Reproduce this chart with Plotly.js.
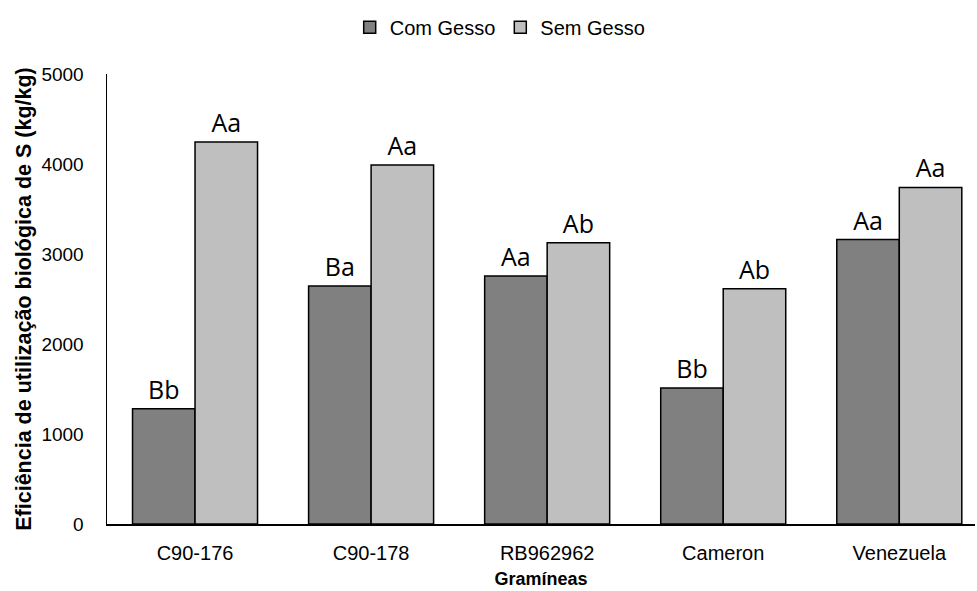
<!DOCTYPE html>
<html><head><meta charset="utf-8">
<script src="https://cdn.plot.ly/plotly-3.0.1.min.js"></script>
<style>body{margin:0}#chart{width:977px;height:591px}</style>
</head><body><div id="chart"></div>
<script>
const categories = ["C90-176", "C90-178", "RB962962", "Cameron", "Venezuela"];
const comGesso = [1280, 2645, 2755, 1510, 3160];
const semGesso = [4245, 3990, 3125, 2615, 3740];
const comLabels = ["Bb", "Ba", "Aa", "Bb", "Aa"];
const semLabels = ["Aa", "Aa", "Ab", "Ab", "Aa"];
const yTicks = [0, 1000, 2000, 3000, 4000, 5000];

const common = {
  type: "bar",
  x: categories,
  textposition: "outside",
  cliponaxis: false,
  textfont: {family: "Open Sans, Lato, sans-serif", size: 25, color: "#000"},
  hoverinfo: "skip"
};
const traces = [
  Object.assign({}, common, {name: "Com Gesso", y: comGesso, text: comLabels,
    marker: {color: "#808080", line: {color: "#000", width: 1.5}}}),
  Object.assign({}, common, {name: "Sem Gesso", y: semGesso, text: semLabels,
    marker: {color: "#bfbfbf", line: {color: "#000", width: 1.5}}})
];
const layout = {
  width: 977, height: 591,
  margin: {l: 107, r: 2, t: 74, b: 67},
  paper_bgcolor: "#fff", plot_bgcolor: "#fff",
  barmode: "group", bargap: 0.29, bargroupgap: 0,
  font: {family: "Liberation Sans, Arial, sans-serif", color: "#000", size: 16},
  showlegend: true,
  legend: {orientation: "h", x: 0.453, xanchor: "center", y: 1.104, yanchor: "middle",
    font: {family: "Liberation Sans, Arial, sans-serif", size: 20}, traceorder: "normal", itemwidth: 30},
  xaxis: {
    range: [-0.5, 4.43],
    showline: true, linecolor: "#000", linewidth: 1.5, ticks: "",
    tickfont: {family: "Liberation Sans, sans-serif", size: 20},
    ticklabelstandoff: 10, automargin: false,
    title: {text: "<b>Gramíneas</b>", font: {family: "Liberation Sans, sans-serif", size: 18}, standoff: 10}
  },
  yaxis: {
    range: [0, 5000], tickvals: yTicks, showgrid: false, zeroline: false,
    showline: true, linecolor: "#000", linewidth: 1.5, ticks: "",
    tickfont: {size: 19}, ticklabelstandoff: 18, automargin: false,
    title: {text: "<b>Eficiência de utilização biológica de S (kg/kg)</b>", font: {size: 21.5}, standoff: 4}
  }
};
Plotly.newPlot("chart", traces, layout, {displayModeBar: false, staticPlot: true});
</script></body></html>
